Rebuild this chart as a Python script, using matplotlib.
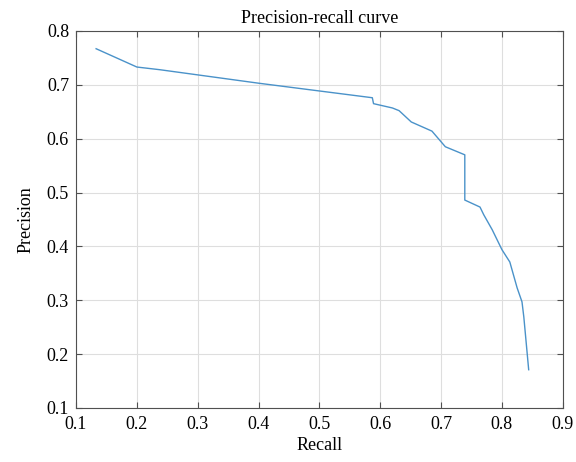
import matplotlib.pyplot as plt

# Precision-recall curve values
recall = [0.133, 0.200, 0.238, 0.400, 0.587, 0.589, 0.620, 0.631, 0.651,
          0.685, 0.707, 0.739, 0.739, 0.764, 0.770, 0.784, 0.800, 0.813,
          0.825, 0.833, 0.836, 0.844]
precision = [0.767, 0.733, 0.728, 0.703, 0.676, 0.665, 0.657, 0.652, 0.631,
             0.614, 0.585, 0.570, 0.486, 0.473, 0.459, 0.431, 0.394, 0.371,
             0.323, 0.297, 0.269, 0.171]

x_ticks = [0.1, 0.2, 0.3, 0.4, 0.5, 0.6, 0.7, 0.8, 0.9]
y_ticks = [0.1, 0.2, 0.3, 0.4, 0.5, 0.6, 0.7, 0.8]

plt.rcParams['font.family'] = ['Liberation Serif', 'DejaVu Serif']

fig = plt.figure(figsize=(5.76, 4.62), dpi=100)
ax = fig.add_axes([0.132, 0.117, 0.845, 0.816])

ax.plot(recall, precision, color="#4a92c9", linewidth=1.0)

ax.set_xlim(0.1, 0.9)
ax.set_ylim(0.1, 0.8)
ax.set_xticks(x_ticks)
ax.set_yticks(y_ticks)
ax.set_xticklabels([f"{v:g}" for v in x_ticks])
ax.set_yticklabels([f"{v:g}" for v in y_ticks])

ax.grid(True, color="#dedede", linewidth=0.8)
ax.set_axisbelow(True)
ax.tick_params(direction="in", top=True, right=True, length=4,
               color="#505050", labelsize=13)
ax.tick_params(axis="x", pad=6)
ax.tick_params(axis="y", pad=5)
for s in ax.spines.values():
    s.set_color("#505050")
    s.set_linewidth(0.8)

ax.set_title("Precision-recall curve", fontsize=13, pad=6)
ax.set_xlabel("Recall", fontsize=13, labelpad=3)
ax.set_ylabel("Precision", fontsize=13, labelpad=9)

fig.savefig("out.png", dpi=100)
